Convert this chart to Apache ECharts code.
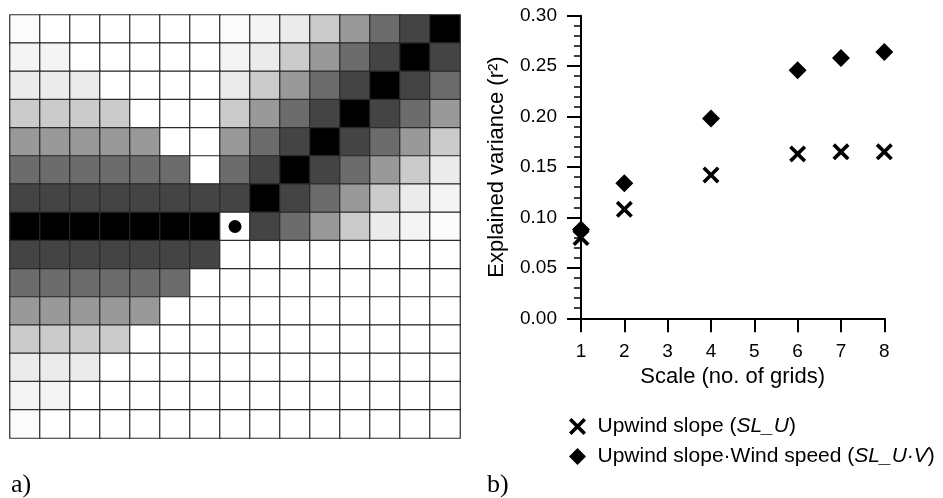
<!DOCTYPE html>
<html>
<head>
<meta charset="utf-8">
<script src="https://cdn.jsdelivr.net/npm/echarts@6/dist/echarts.min.js"></script>
<style>
  body { margin: 0; background: #fff; }
  #grafico { width: 943px; height: 498px; }
</style>
</head>
<body>
<div id="grafico"></div>
<script>
// ---------------- DATOS ----------------

// panel a) niveles de gris de la ventana 15x15 (0 = blanco, 8 = negro)
var niveles = [
  [1,0,0,0,0,0,0,1,2,3,4,5,6,7,8],
  [2,2,0,0,0,0,0,2,3,4,5,6,7,8,7],
  [3,3,3,0,0,0,0,3,4,5,6,7,8,7,6],
  [4,4,4,4,0,0,0,4,5,6,7,8,7,6,5],
  [5,5,5,5,5,0,0,5,6,7,8,7,6,5,4],
  [6,6,6,6,6,6,0,6,7,8,7,6,5,4,3],
  [7,7,7,7,7,7,7,7,8,7,6,5,4,3,2],
  [8,8,8,8,8,8,8,0,7,6,5,4,3,2,1],
  [7,7,7,7,7,7,7,0,0,0,0,0,0,0,0],
  [6,6,6,6,6,6,0,0,0,0,0,0,0,0,0],
  [5,5,5,5,5,0,0,0,0,0,0,0,0,0,0],
  [4,4,4,4,0,0,0,0,0,0,0,0,0,0,0],
  [3,3,3,0,0,0,0,0,0,0,0,0,0,0,0],
  [2,2,0,0,0,0,0,0,0,0,0,0,0,0,0],
  [1,0,0,0,0,0,0,0,0,0,0,0,0,0,0]
];
var columnas = ['0','1','2','3','4','5','6','7','8','9','10','11','12','13','14'];
var filas = ['0','1','2','3','4','5','6','7','8','9','10','11','12','13','14'];
var celdaCentral = [7, 7];

// panel b) varianza explicada por escala
var escalas = [1, 2, 4, 6, 7, 8];
var pendiente = [0.080, 0.108, 0.142, 0.163, 0.165, 0.165];
var pendienteViento = [0.088, 0.134, 0.198, 0.246, 0.258, 0.264];
var nombres = ['Upwind slope (SL_U)', 'Upwind slope\u00b7Wind speed (SL_U\u00b7V)'];

// ---------------- GRAFICO ----------------

var fuente = '"Liberation Sans", Arial, sans-serif';
var cruz = 'path://M0,15 L15,0 L50,35 L85,0 L100,15 L65,50 L100,85 L85,100 L50,65 L15,100 L0,85 L35,50 Z';
var rombo = 'path://M50,0 L100,50 L50,100 L0,50 Z';
var grises = ['#ffffff', '#fbfbfb', '#f4f4f4', '#ebebeb', '#cbcbcb', '#999999', '#6c6c6c', '#444444', '#000000'];

var celdas = [];
niveles.forEach(function (fila, r) {
  fila.forEach(function (v, c) {
    celdas.push([c, r, v]);
  });
});

var puntos1 = escalas.map(function (e, i) { return [e, pendiente[i]]; });
var puntos2 = escalas.map(function (e, i) { return [e, pendienteViento[i]]; });

var chart = echarts.init(document.getElementById('grafico'));

chart.setOption({
  animation: false,
  textStyle: { fontFamily: fuente, color: '#000' },
  grid: [
    { left: 10, top: 15, width: 450, height: 423 },
    { left: 581, top: 15.7, width: 303.3, height: 302.6 }
  ],
  xAxis: [
    { type: 'category', gridIndex: 0, data: columnas, show: false },
    {
      type: 'value', gridIndex: 1, min: 1, max: 8, interval: 1,
      name: 'Scale (no. of grids)', nameLocation: 'middle', nameGap: 45,
      nameTextStyle: { fontSize: 22, color: '#000' },
      axisLine: { lineStyle: { color: '#000', width: 2 } },
      axisTick: { length: 14, lineStyle: { color: '#000', width: 2 } },
      axisLabel: { fontSize: 19, color: '#000', margin: 24 },
      splitLine: { show: false }
    }
  ],
  yAxis: [
    { type: 'category', gridIndex: 0, data: filas, inverse: true, show: false },
    {
      type: 'value', gridIndex: 1, min: 0, max: 0.3, interval: 0.05,
      name: 'Explained variance (r\u00b2)', nameLocation: 'middle', nameGap: 73,
      nameTextStyle: { fontSize: 22, color: '#000' },
      axisLine: { show: true, lineStyle: { color: '#000', width: 2 } },
      axisTick: { length: 14, lineStyle: { color: '#000', width: 2 } },
      minorTick: { show: true, splitNumber: 5, length: 7, lineStyle: { color: '#000', width: 1.5 } },
      axisLabel: {
        fontSize: 19, color: '#000', margin: 24,
        formatter: function (v) { return v.toFixed(2); }
      },
      splitLine: { show: false }
    }
  ],
  visualMap: {
    show: false,
    type: 'piecewise',
    seriesIndex: 0,
    dimension: 2,
    pieces: grises.map(function (g, i) { return { value: i, color: g }; })
  },
  legend: {
    data: [
      { name: nombres[0], icon: cruz },
      { name: nombres[1], icon: rombo }
    ],
    orient: 'vertical',
    left: 564,
    top: 411,
    itemWidth: 30,
    itemHeight: 17,
    itemGap: 9,
    textStyle: {
      fontSize: 21,
      color: '#000',
      fontFamily: fuente,
      rich: {
        n: { fontSize: 21, fontFamily: fuente, color: '#000' },
        i: { fontSize: 21, fontFamily: fuente, color: '#000', fontStyle: 'italic' }
      }
    },
    formatter: function (name) {
      if (name == nombres[0]) {
        return '{n|Upwind slope (}{i|SL_U}{n|)}';
      }
      return '{n|Upwind slope\u00b7Wind speed (}{i|SL_U\u00b7V}{n|)}';
    }
  },
  series: [
    {
      type: 'heatmap',
      xAxisIndex: 0, yAxisIndex: 0,
      data: celdas,
      itemStyle: { borderColor: '#2a2a2a', borderWidth: 1.2 },
      emphasis: { disabled: true }
    },
    {
      type: 'scatter',
      xAxisIndex: 0, yAxisIndex: 0,
      data: [celdaCentral],
      symbol: 'circle', symbolSize: 13,
      itemStyle: { color: '#000', opacity: 1 },
      silent: true
    },
    {
      name: nombres[0],
      type: 'scatter',
      xAxisIndex: 1, yAxisIndex: 1,
      data: puntos1,
      symbol: cruz, symbolSize: 17,
      itemStyle: { color: '#000', opacity: 1 }
    },
    {
      name: nombres[1],
      type: 'scatter',
      xAxisIndex: 1, yAxisIndex: 1,
      data: puntos2,
      symbol: rombo, symbolSize: 18,
      itemStyle: { color: '#000', opacity: 1 }
    }
  ],
  graphic: [
    { type: 'text', left: 11, top: 472, style: { text: 'a)', font: '26px "Liberation Serif", serif', fill: '#000' } },
    { type: 'text', left: 487, top: 472, style: { text: 'b)', font: '26px "Liberation Serif", serif', fill: '#000' } }
  ]
});
</script>
</body>
</html>
